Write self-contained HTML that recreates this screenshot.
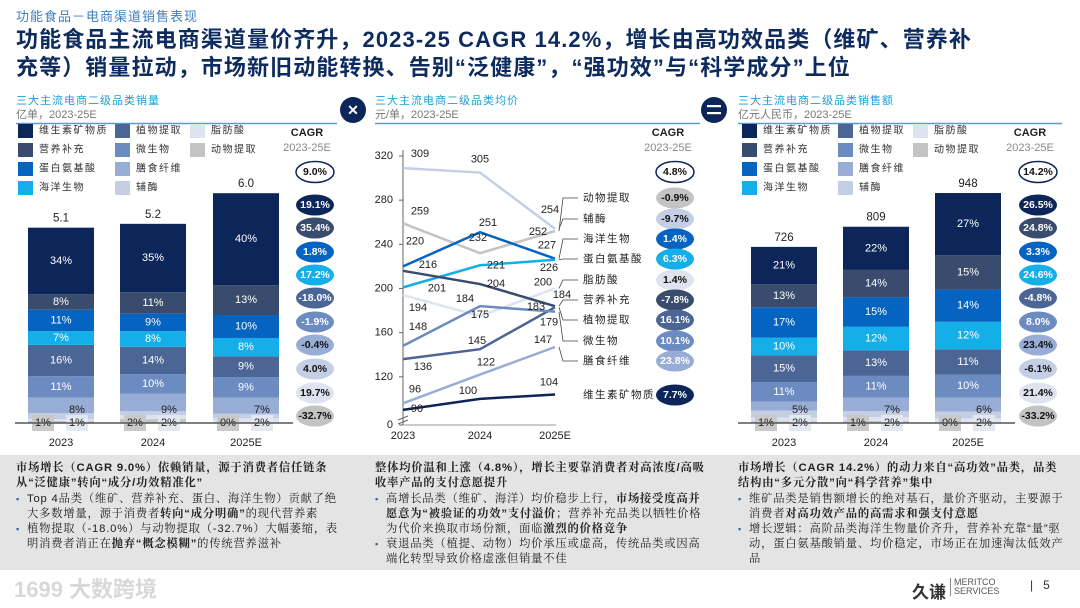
<!DOCTYPE html>
<html><head><meta charset="utf-8">
<style>
body{margin:0;width:1080px;height:608px;overflow:hidden;background:#fff;font-family:"Liberation Sans","Noto Sans CJK SC",sans-serif;position:relative}
.abs{position:absolute}
.sub{left:16px;top:6px;font-size:13px;color:#3f7fbf;letter-spacing:1px}
.title{left:16px;top:26px;font-size:22px;font-weight:bold;color:#0d2b5e;line-height:28px;letter-spacing:1.1px;white-space:nowrap}
.bottom{left:0;top:455px;width:1080px;height:115px;background:#e4e4e4}
.col{position:absolute;top:6px;font-size:11.3px;line-height:15px;color:#222;letter-spacing:0.8px;font-family:"Liberation Sans","Noto Serif CJK SC",serif}
.col .h{font-weight:bold;margin-bottom:1px}
.col ul{margin:0;padding:0;list-style:none}
.col li{padding-left:11px;position:relative}
.col li:before{content:"▪";position:absolute;left:0;color:#3b5f99;font-size:9px}
</style></head><body>
<div class="abs sub">功能食品－电商渠道销售表现</div>
<div class="abs title">功能食品主流电商渠道量价齐升，2023-25 CAGR 14.2%，增长由高功效品类（维矿、营养补<br>充等）销量拉动，市场新旧动能转换、告别“泛健康”，“强功效”与“科学成分”上位</div>

<svg class="abs" style="left:0;top:0" width="1080" height="608" id="svg" font-family="Liberation Sans, Noto Sans CJK SC, sans-serif">
<g id="panelL"></g>
<g id="panelM"></g>
<g id="panelR"></g>
</svg>

<div class="abs bottom">
 <div class="col" style="left:16px;width:330px">
  <div class="h">市场增长（CAGR 9.0%）依赖销量，源于消费者信任链条从“泛健康”转向“成分/功效精准化”</div>
  <ul><li>Top 4品类（维矿、营养补充、蛋白、海洋生物）贡献了绝大多数增量，源于消费者<b>转向“成分明确”</b>的现代营养素</li>
  <li>植物提取（-18.0%）与动物提取（-32.7%）大幅萎缩，表明消费者消正在<b>抛弃“概念模糊”</b>的传统营养滋补</li></ul>
 </div>
 <div class="col" style="left:375px;width:330px">
  <div class="h">整体均价温和上涨（4.8%），增长主要靠消费者对高浓度/高吸收率产品的支付意愿提升</div>
  <ul><li>高增长品类（维矿、海洋）均价稳步上行，<b>市场接受度高并愿意为“被验证的功效”支付溢价</b>；营养补充品类以牺牲价格为代价来换取市场份额，面临<b>激烈的价格竞争</b></li>
  <li>衰退品类（植提、动物）均价承压或虚高，传统品类或因高端化转型导致价格虚涨但销量不佳</li></ul>
 </div>
 <div class="col" style="left:738px;width:330px">
  <div class="h">市场增长（CAGR 14.2%）的动力来自“高功效”品类，品类结构由“多元分散”向“科学营养”集中</div>
  <ul><li>维矿品类是销售额增长的绝对基石，量价齐驱动，主要源于消费者<b>对高功效产品的高需求和强支付意愿</b></li>
  <li>增长逻辑：高阶品类海洋生物量价齐升，营养补充靠“量”驱动，蛋白氨基酸销量、均价稳定，市场正在加速淘汰低效产品</li></ul>
 </div>
</div>
<div class="abs" style="left:14px;top:572px;font-size:22px;color:#d8d8d8;font-weight:bold">1699 大数跨境</div>
<div class="abs" style="left:912px;top:578px;font-size:17px;color:#333;font-weight:bold">久谦</div>
<div class="abs" style="left:950px;top:578px;font-size:9px;line-height:9px;color:#555;border-left:1px solid #888;padding-left:3px">MERITCO<br>SERVICES</div>
<div class="abs" style="left:1030px;top:578px;font-size:12px;color:#333">|&nbsp;&nbsp;&nbsp;5</div>

<script>
// ---------- DATA ----------
const years = ['2023','2024','2025E'];
const catNames = ['维生素矿物质','营养补充','蛋白氨基酸','海洋生物','植物提取','微生物','膳食纤维','辅酶','脂肪酸','动物提取'];
const volTotals = [5.1, 5.2, 6.0];
const volVit = [34,35,40], volNut = [8,11,13], volProt = [11,9,10], volMar = [7,8,8], volPlant = [16,14,9];
const volMicro = [11,10,9], volFiber = [8,9,7], volCoenz = [3,2,2], volFat = [1,2,2], volAnimal = [1,2,0];
const volCagr = ['19.1%','35.4%','1.8%','17.2%','-18.0%','-1.9%','-0.4%','4.0%','19.7%','-32.7%'];
const volTotalCagr = '9.0%';
const salTotals = [726, 809, 948];
const salVit = [21,22,27], salNut = [13,14,15], salProt = [17,15,14], salMar = [10,12,12], salPlant = [15,13,11];
const salMicro = [11,11,10], salFiber = [5,7,6], salCoenz = [4,3,3], salFat = [2,2,2], salAnimal = [1,1,0];
const salCagr = ['26.5%','24.8%','3.3%','24.6%','-4.8%','8.0%','23.4%','-6.1%','21.4%','-33.2%'];
const salTotalCagr = '14.2%';
const prCoenz = [309,305,254], prAnimal = [259,232,252], prMar = [220,251,227], prProt = [201,221,226];
const prFat = [194,175,200], prNut = [216,204,184], prPlant = [136,145,183], prMicro = [148,184,179];
const prFiber = [96,122,147], prVit = [90,100,104];
const prNames = ['动物提取','辅酶','海洋生物','蛋白氨基酸','脂肪酸','营养补充','植物提取','微生物','膳食纤维','维生素矿物质'];
const prCagr = ['-0.9%','-9.7%','1.4%','6.3%','1.4%','-7.8%','16.1%','10.1%','23.8%','7.7%'];
const prTotalCagr = '4.8%';
const yTicks = [0,120,160,200,240,280,320];

// ---------- STYLE ----------
const NS='http://www.w3.org/2000/svg';
const col = {vit:'#0c2659',nut:'#394c6d',prot:'#0563c1',mar:'#14aee8',plant:'#4b6595',micro:'#6c8bc1',fiber:'#98add5',coenz:'#c4cfe5',fat:'#dde3ef',animal:'#c3c3c3'};
const catColors=[col.vit,col.nut,col.prot,col.mar,col.plant,col.micro,col.fiber,col.coenz,col.fat,col.animal];
const darkText=[1,1,1,1,1,1,0,0,0,0];
function el(tag,attrs,parent,text){const e=document.createElementNS(NS,tag);for(const k in attrs)e.setAttribute(k,attrs[k]);if(text!==undefined)e.textContent=text;parent.appendChild(e);return e;}
function txt(parent,x,y,s,opt){opt=opt||{};const t=el('text',{x:x,y:y,'font-size':opt.size||11,fill:opt.fill||'#222','text-anchor':opt.anchor||'middle','dominant-baseline':'central','font-weight':opt.weight||'normal','letter-spacing':opt.ls||0},parent,s);return t;}

function header(g,x,x2,title,unit){
  const t=txt(g,x,101,title,{anchor:'start',fill:'#1a9fd6',size:11,ls:1});
  
  const u=txt(g,x,115,unit,{anchor:'start',fill:'#777',size:11});
  
  el('line',{x1:x,x2:x2,y1:123.5,y2:123.5,stroke:'#5b9bd5','stroke-width':1.5},g);
}
function cagrHeader(g,x){
  txt(g,x,133,'CAGR',{weight:'bold',size:11});
  txt(g,x,148,'2023-25E',{fill:'#888',size:11});
}
function ellipse(g,cx,cy,s,fill,tc,outline){
  const e=el('ellipse',{cx:cx,cy:cy,rx:19,ry:10.5,fill:fill,stroke:outline?'#0c2659':'none','stroke-width':1.5},g);
  
  
  txt(g,cx,cy,s,{weight:'bold',size:10.5,fill:tc});
}

function stackPanel(g,o){
  header(g,o.hx,o.hx2,o.title,o.unit);
  const legOrder=[[0,4,8],[1,5,9],[2,6],[3,7]];
  legOrder.forEach((row,ri)=>row.forEach((ci,cj)=>{
    const lx=o.legX[cj], ly=131+ri*19;
    const r=el('rect',{x:lx,y:ly-7,width:15,height:14,fill:catColors[ci]},g);
    
    const t=txt(g,lx+21,ly,catNames[ci],{anchor:'start',size:10,fill:'#333',ls:1.5});
    
  }));
  cagrHeader(g,o.cagrX-8);
  const base=423;
  const series=o.series;
  years.forEach((yr,i)=>{
    const x=o.barX[i], w=66;
    const H=o.totals[i]*o.k;
    const shares=series.map(s=>s[i]);
    const sum=shares.reduce((a,b)=>a+b,0);
    let y=base;
    for(let c=series.length-1;c>=0;c--){
      const h=H*shares[c]/sum;
      y-=h;
      const r=el('rect',{x:x,y:y,width:w,height:Math.max(h,0),fill:catColors[c]},g);
      
      
      if(c<=5) txt(g,x+w/2,y+h/2,shares[c]+'%',{fill:'#fff',size:11});
      if(c===6) txt(g,x+49,410,shares[c]+'%',{size:11});
    }
    el('rect',{x:x+4,y:415,width:22,height:16,fill:'#c9c9c9'},g);
    txt(g,x+15,423,series[9][i]+'%',{size:11});
    el('rect',{x:x+38,y:415,width:22,height:16,fill:'#e3e7f0'},g);
    txt(g,x+49,423,series[8][i]+'%',{size:11});
    const tl=txt(g,x+w/2,base-H-9,o.fmt(o.totals[i]),{size:11.5});
    
    const xl=txt(g,x+w/2,443,yr,{size:11});
    
  });
  el('line',{x1:o.barX[0]-13,x2:o.barX[2]+80,y1:423,y2:423,stroke:'#555','stroke-width':1.5},g);
  ellipse(g,o.cagrX,172,o.totalCagr,'#fff','#111',true);
  const ys=[205,228,252,275,298,322,345,369,393,416];
  o.cagr.forEach((s,i)=>ellipse(g,o.cagrX,ys[i],s,catColors[i],darkText[i]?'#fff':'#111',false));
}

const L=document.getElementById('panelL');
stackPanel(L,{hx:16,hx2:337,title:'三大主流电商二级品类销量',unit:'亿单，2023-25E',legX:[18,115,190],cagrX:315,
  barX:[28,120,213],k:38.3,totals:volTotals,fmt:v=>v.toFixed(1),
  series:[volVit,volNut,volProt,volMar,volPlant,volMicro,volFiber,volCoenz,volFat,volAnimal],cagr:volCagr,totalCagr:volTotalCagr});
const R=document.getElementById('panelR');
stackPanel(R,{hx:738,hx2:1062,title:'三大主流电商二级品类销售额',unit:'亿元人民币，2023-25E',legX:[742,838,913],cagrX:1038,
  barX:[751,843,935],k:0.2426,totals:salTotals,fmt:v=>String(v),
  series:[salVit,salNut,salProt,salMar,salPlant,salMicro,salFiber,salCoenz,salFat,salAnimal],cagr:salCagr,totalCagr:salTotalCagr});
const M=document.getElementById('panelM');
el('circle',{cx:353,cy:110,r:13,fill:'#0c2659'},M);
txt(M,353,110,'✕',{fill:'#fff',size:14,weight:'bold'});
el('circle',{cx:714,cy:110,r:13,fill:'#0c2659'},M);
el('rect',{x:707,y:105,width:14,height:2.2,fill:'#fff'},M);
el('rect',{x:707,y:112,width:14,height:2.2,fill:'#fff'},M);

// ---------- LINE CHART ----------
header(M,375,700,'三大主流电商二级品类均价','元/单，2023-25E');
cagrHeader(M,668);
const xPos=[403,480,555];
function yScale(v){return v===0?425:156+(320-v)*1.104;}
el('line',{x1:403,x2:403,y1:150,y2:425,stroke:'#666','stroke-width':1},M);
el('line',{x1:403,x2:556,y1:425,y2:425,stroke:'#999','stroke-width':1},M);
el('line',{x1:398,x2:408,y1:420,y2:416,stroke:'#666'},M);
el('line',{x1:398,x2:408,y1:424,y2:420,stroke:'#666'},M);
yTicks.forEach(v=>{
  const y=yScale(v);
  el('line',{x1:399,x2:403,y1:y,y2:y,stroke:'#666'},M);
  const t=txt(M,393,y,String(v),{anchor:'end',size:11});
  
});
years.forEach((yr,i)=>{const t=txt(M,xPos[i],436,yr,{size:11});});
const prSeries=[prAnimal,prCoenz,prMar,prProt,prFat,prNut,prPlant,prMicro,prFiber,prVit];
const prColors=[col.animal,col.coenz,col.prot,col.mar,col.fat,col.nut,col.plant,col.micro,col.fiber,col.vit];
const prBadgeText=['#111','#111','#fff','#fff','#111','#fff','#fff','#fff','#fff','#fff'];
const labelOff=[[[17,-12],[-2,-15],[-17,1]],[[17,-14],[0,-13],[-5,-19]],[[12,-25],[8,-9],[-8,-13]],[[34,1],[16,0],[-6,8]],
 [[15,13],[0,-1],[-12,-6]],[[25,-6],[16,0],[7,-11]],[[20,8],[-3,-8],[-19,0]],[[15,-19],[-15,-7],[-6,11]],[[12,-14],[6,-12],[-12,-7]],[[14,-1],[-12,-8],[-6,-12]]];
const labY=[198,219,239,259,280,300,320,341,361,395];
prSeries.forEach((s,si)=>{
  const pts=s.map((v,i)=>xPos[i]+','+yScale(v)).join(' ');
  const pl=el('polyline',{points:pts,fill:'none',stroke:prColors[si],'stroke-width':2.5},M);
  
  
});
prSeries.forEach((s,si)=>{
  s.forEach((v,i)=>{
    const t=txt(M,xPos[i]+labelOff[si][i][0],yScale(v)+labelOff[si][i][1],String(v),{size:11});
    
  });
  const ly=labY[si];
  if(si<9) el('polyline',{points:(559)+','+yScale(s[2])+' '+563+','+ly+' '+578+','+ly,fill:'none',stroke:'#444','stroke-width':0.8},M);
  const t=txt(M,583,ly,prNames[si],{anchor:'start',size:10.5,ls:1.5});
  
  ellipse(M,675,ly,prCagr[si],prColors[si],prBadgeText[si],false);
});
ellipse(M,675,172,prTotalCagr,'#fff','#111',true);
</script>
</body></html>
